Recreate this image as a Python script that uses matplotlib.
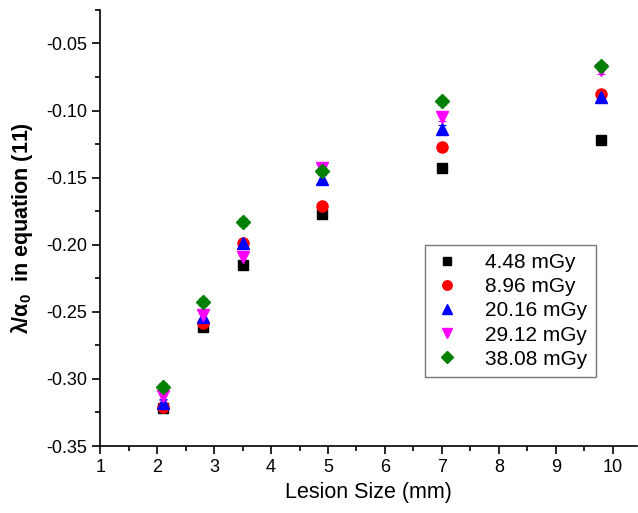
import matplotlib
matplotlib.use("Agg")
import matplotlib.pyplot as plt
from matplotlib.ticker import MultipleLocator, FormatStrFormatter

plt.rcParams['font.family'] = ['Liberation Sans', 'DejaVu Sans']
plt.rcParams['axes.unicode_minus'] = False
plt.rcParams['mathtext.fontset'] = 'custom'
plt.rcParams['mathtext.rm'] = 'Liberation Sans'
plt.rcParams['mathtext.bf'] = 'Liberation Sans:bold'

lesion_size = [2.1, 2.8, 3.5, 4.9, 7.0, 9.8]
labels = ["4.48 mGy", "8.96 mGy", "20.16 mGy", "29.12 mGy", "38.08 mGy"]
y_448 = [-0.322, -0.261, -0.215, -0.177, -0.143, -0.122]
y_896 = [-0.321, -0.258, -0.199, -0.171, -0.127, -0.088]
y_2016 = [-0.318, -0.254, -0.199, -0.151, -0.114, -0.090]
y_2912 = [-0.313, -0.252, -0.209, -0.143, -0.105, -0.070]
y_3808 = [-0.306, -0.243, -0.183, -0.145, -0.093, -0.067]
err_448 = [0.002, 0.002, 0.002, 0.002, 0.001, 0.001]
err_896 = [0.002, 0.002, 0.002, 0.002, 0.002, 0.002]
err_2016 = [0.003, 0.003, 0.003, 0.003, 0.003, 0.003]
err_2912 = [0.003, 0.003, 0.003, 0.003, 0.003, 0.003]
err_3808 = [0.003, 0.003, 0.003, 0.003, 0.003, 0.003]

series = [y_448, y_896, y_2016, y_2912, y_3808]
errors = [err_448, err_896, err_2016, err_2912, err_3808]
colors = ['black', 'red', 'blue', 'magenta', 'green']
markers = ['s', 'o', '^', 'v', 'D']
msizes = [7, 8, 8, 8, 7]

fig = plt.figure(figsize=(6.38, 5.13), dpi=100)
ax = fig.add_axes([0.157, 0.1306, 0.841, 0.85])

for ys, es, c, m, ms, lab in zip(series, errors, colors, markers, msizes, labels):
    ax.errorbar(lesion_size, ys, yerr=es, fmt=m, color=c, ms=ms, mec=c,
                ecolor=c, elinewidth=0.8, capsize=3, capthick=0.8,
                linestyle='none', label=lab)

ax.set_xlim(1, 10.42)
ax.set_ylim(-0.35, -0.025)
ax.xaxis.set_major_locator(MultipleLocator(1))
ax.xaxis.set_minor_locator(MultipleLocator(0.5))
ax.yaxis.set_major_locator(MultipleLocator(0.05))
ax.yaxis.set_minor_locator(MultipleLocator(0.025))
ax.yaxis.set_major_formatter(FormatStrFormatter('%.2f'))

ax.spines['top'].set_visible(False)
ax.spines['right'].set_visible(False)
for s in ['left', 'bottom']:
    ax.spines[s].set_linewidth(1.2)
ax.tick_params(which='major', direction='out', length=6, width=1.2, labelsize=13)
ax.tick_params(which='minor', direction='out', length=3.5, width=1.2)

ax.set_xlabel('Lesion Size (mm)', fontsize=15.5, labelpad=4)
ax.set_ylabel(r'λ/α$_{\mathbf{0}}$  in equation (11)', fontsize=15.5,
              fontweight='bold', labelpad=8)

handles, labs = ax.get_legend_handles_labels()
handles = [h[0] for h in handles]
leg = ax.legend(handles, labs, loc='lower right', bbox_to_anchor=(0.924, 0.158),
                borderaxespad=0, fontsize=15, frameon=True, fancybox=False,
                edgecolor='#555555', handlelength=1.3, handletextpad=1.2,
                labelspacing=0.25, borderpad=0.4, markerscale=0.85)
leg.get_frame().set_linewidth(1.0)

fig.savefig('out.png', dpi=100)
